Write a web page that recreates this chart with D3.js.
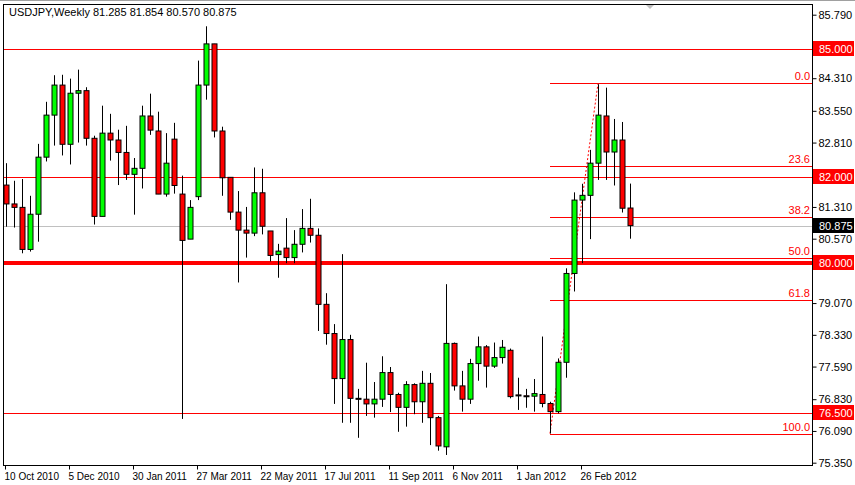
<!DOCTYPE html>
<html>
<head>
<meta charset="utf-8">
<script src="https://cdn.jsdelivr.net/npm/d3@7"></script>
<style>
body { margin: 0; background: #fff; }
text { font-family: "Liberation Sans", Arial, sans-serif; }
line.level { shape-rendering: crispEdges; }
</style>
</head>
<body>
<svg id="chart" width="855" height="485"></svg>
<script>
// weekly OHLC, USDJPY, from 10 Oct 2010
const opens  = [81.82,81.38,81.30,80.32,81.14,82.47,83.45,84.15,82.77,83.96,84.02,82.91,81.09,83.03,82.87,82.58,82.07,82.21,83.43,83.08,81.61,82.89,81.61,80.56,81.55,84.15,85.11,83.08,82.00,81.19,80.77,80.70,81.64,80.75,80.20,80.35,80.13,80.44,80.81,80.65,79.04,78.36,77.31,78.22,76.85,76.83,76.72,76.83,77.45,76.94,76.64,77.17,76.77,77.20,76.40,75.72,78.13,77.14,76.83,77.66,78.05,77.60,77.80,77.97,76.93,76.91,76.90,76.94,76.73,76.54,77.69,79.76,81.47,81.58,82.33,83.43,82.59,82.87,81.285]
const highs  = [82.33,81.92,81.96,81.57,82.78,83.76,84.38,84.39,84.30,84.51,84.10,82.97,83.67,83.48,83.11,83.20,82.45,83.67,83.95,83.53,83.03,83.27,82.04,81.47,84.72,85.52,85.11,83.18,82.00,81.68,81.31,82.23,82.20,80.75,80.45,81.05,80.77,81.26,81.50,80.81,79.30,78.58,80.21,78.33,77.07,77.68,77.23,77.83,77.58,76.98,77.25,77.20,77.49,77.44,76.44,79.51,78.15,77.49,77.77,78.29,78.09,78.15,78.21,78.01,77.33,77.07,77.30,78.29,76.77,77.78,79.88,81.65,81.85,82.64,84.17,84.09,83.36,83.29,81.854]
const lows   = [80.85,80.83,80.23,80.27,80.50,82.37,82.74,82.51,82.30,82.81,82.74,80.90,81.09,82.39,81.82,81.94,81.13,81.74,82.99,81.61,81.55,81.62,76.37,80.56,81.47,83.81,82.93,81.57,81.01,79.55,80.13,80.63,80.67,80.04,79.66,80.00,80.00,80.25,80.48,78.42,78.10,76.72,76.28,76.28,75.93,76.44,76.40,76.65,76.53,76.07,76.19,76.48,76.28,75.76,75.63,75.53,77.03,76.54,76.72,77.26,77.10,77.56,77.66,76.85,76.58,76.63,76.54,76.64,76.03,76.50,77.33,79.34,80.00,80.56,81.94,81.94,81.81,81.18,80.570]
const closes = [81.38,81.30,80.32,81.14,82.47,83.45,84.15,82.77,83.96,84.02,82.91,81.09,83.03,82.87,82.58,82.07,82.21,83.43,83.10,81.61,82.33,81.81,80.53,81.30,84.15,85.11,83.08,81.99,81.19,80.77,80.70,81.64,80.86,80.18,80.28,80.13,80.44,80.81,80.65,79.04,78.36,77.31,78.22,76.85,76.83,76.72,76.83,77.45,76.94,76.64,77.17,76.77,77.20,76.40,75.74,78.13,77.14,76.83,77.66,78.05,77.60,77.80,78.04,76.89,76.92,76.90,76.96,76.73,76.54,77.69,79.76,81.47,81.58,82.33,83.45,82.59,82.87,81.28,80.875]

const priceTicks = [85.790,84.310,83.550,82.810,82.070,81.310,80.570,79.830,79.070,78.330,77.590,76.830,76.090,75.350]
const dateTicks = [0,8,16,24,32,40,48,56,64,72]
const dateLabels = ["10 Oct 2010","5 Dec 2010","30 Jan 2011","27 Mar 2011","22 May 2011","17 Jul 2011","11 Sep 2011","6 Nov 2011","1 Jan 2012","26 Feb 2012"]

const levels = [85.000, 82.000, 80.000, 76.500]
const bid = 80.875
const fibLow = 76.03, fibHigh = 84.19, fibStart = 68, fibEnd = 74
const fibRatios = [0, 23.6, 38.2, 50, 61.8, 100]

const svg = d3.select('#chart')
const pLeft = 3, pRight = 812, pTop = 4, pBottom = 465

const y = d3.scaleLinear().domain([75.35, 85.79]).range([462.7, 14.7])
const x = d3.scaleLinear().domain([0, 78]).range([6, 630])

svg.append('line').attr('x1', 0).attr('x2', 855).attr('y1', 0.5).attr('y2', 0.5).attr('stroke', '#a0a0a0')

svg.append('defs').append('clipPath').attr('id', 'clip')
    .append('rect').attr('x', pLeft).attr('y', pTop).attr('width', pRight - pLeft).attr('height', pBottom - pTop)
const plot = svg.append('g').attr('clip-path', 'url(#clip)')

// horizontal levels
levels.forEach(v => {
    plot.append('line').attr('class', 'level')
        .attr('x1', pLeft).attr('x2', pRight)
        .attr('y1', Math.round(y(v))).attr('y2', Math.round(y(v)))
        .attr('stroke', '#ff0000')
        .attr('stroke-width', v === 80 ? 4 : 1)
})
plot.append('line').attr('class', 'level')
    .attr('x1', pLeft).attr('x2', pRight)
    .attr('y1', Math.round(y(bid))).attr('y2', Math.round(y(bid)))
    .attr('stroke', '#c0c0c0')

// fibonacci
fibRatios.forEach(r => {
    const v = fibHigh - (fibHigh - fibLow) * r / 100
    const yy = Math.round(y(v))
    plot.append('line').attr('class', 'level')
        .attr('x1', x(fibStart)).attr('x2', pRight)
        .attr('y1', yy).attr('y2', yy)
        .attr('stroke', '#ff0000')
    plot.append('text')
        .attr('x', pRight - 2).attr('y', yy - 3)
        .attr('text-anchor', 'end')
        .attr('font-size', 11).attr('fill', '#ff0000')
        .text(r.toFixed(1))
})
plot.append('line')
    .attr('x1', x(fibStart)).attr('y1', y(fibLow))
    .attr('x2', x(fibEnd)).attr('y2', y(fibHigh))
    .attr('stroke', '#ff0000').attr('stroke-dasharray', '2,2')

// candles
const candles = plot.selectAll('g.candle').data(d3.range(opens.length)).join('g')
candles.append('line')
    .attr('x1', i => Math.round(x(i)) + 0.5).attr('x2', i => Math.round(x(i)) + 0.5)
    .attr('y1', i => y(highs[i])).attr('y2', i => y(lows[i]))
    .attr('stroke', '#000')
candles.append('rect')
    .attr('x', i => Math.round(x(i)) - 2)
    .attr('width', 5)
    .attr('y', i => y(Math.max(opens[i], closes[i])))
    .attr('height', i => Math.max(1, Math.abs(y(opens[i]) - y(closes[i]))))
    .attr('fill', i => closes[i] >= opens[i] ? '#00ff00' : '#ff0000')
    .attr('stroke', '#000')
    .attr('stroke-width', 1)

// frame
svg.append('rect')
    .attr('x', pLeft + 0.5).attr('y', pTop + 0.5)
    .attr('width', pRight - pLeft).attr('height', pBottom - pTop)
    .attr('fill', 'none').attr('stroke', '#000')

svg.append('path').attr('d', 'M646,5 L654,5 L650,9 Z').attr('fill', '#c0c0c0')

// price axis (labels hidden under a level tag are left out)
const shownTicks = priceTicks.filter(t => !levels.some(v => Math.abs(y(v) - y(t)) < 11))
const yAxis = svg.append('g')
    .attr('transform', `translate(${pRight + 0.5},0)`)
    .call(d3.axisRight(y).tickValues(shownTicks).tickFormat(d3.format('.3f')).tickSize(4).tickPadding(2))
yAxis.select('.domain').remove()
yAxis.selectAll('.tick text').attr('font-size', 11).attr('fill', '#000').attr('font-family', 'Liberation Sans')
yAxis.selectAll('.tick line').attr('stroke', '#000')

// level tags
levels.concat([bid]).forEach(v => {
    const g = svg.append('g').attr('transform', `translate(${pRight + 1},${Math.round(y(v))})`)
    g.append('rect').attr('x', 0).attr('y', -8).attr('width', 41).attr('height', 15)
        .attr('fill', v === bid ? '#000' : '#ff0000')
    g.append('text').attr('x', 6).attr('y', 4).attr('font-size', 11).attr('fill', '#fff')
        .text(v.toFixed(3))
})

// time axis
const xAxis = svg.append('g')
    .attr('transform', `translate(0,${pBottom + 0.5})`)
    .call(d3.axisBottom(x).tickValues(dateTicks).tickFormat((d, i) => dateLabels[i]).tickSize(4).tickPadding(3))
xAxis.select('.domain').remove()
xAxis.selectAll('.tick line').attr('stroke', '#000').attr('transform', 'translate(-1,0)')
xAxis.selectAll('.tick text').attr('font-size', 10).attr('fill', '#000')
    .attr('text-anchor', 'start').attr('dx', -2).attr('font-family', 'Liberation Sans')

svg.append('text').attr('x', 9).attr('y', 16).attr('font-size', 11).attr('fill', '#000')
    .text('USDJPY,Weekly  81.285 81.854 80.570 80.875')
</script>
</body>
</html>
